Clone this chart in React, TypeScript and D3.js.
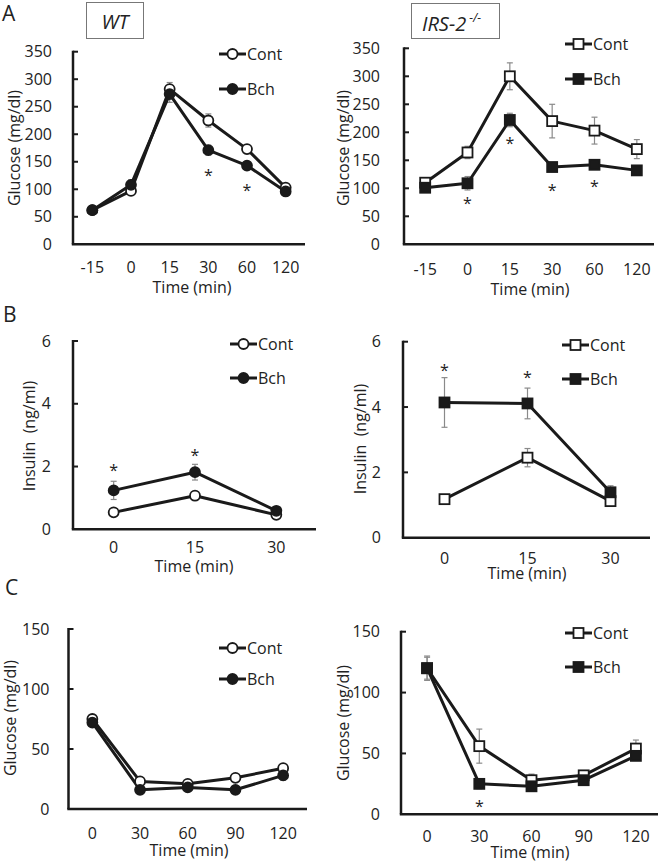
import React from "react";
import * as d3 from "d3";

// ---------- data ----------
const ogttTimes = ["-15", "0", "15", "30", "60", "120"];
const insulinTimes = ["0", "15", "30"];
const ittTimes = ["0", "30", "60", "90", "120"];

const glucoseTicks = [0, 50, 100, 150, 200, 250, 300, 350];
const insulinTicks = [0, 2, 4, 6];
const ittTicks = [0, 50, 100, 150];

const wtOgttCont = [62, 97, 282, 225, 173, 103];
const wtOgttContErr = [3, 4, 12, 12, 8, 3];
const wtOgttBch = [62, 108, 273, 171, 143, 96];
const wtOgttBchErr = [4, 9, 15, 9, 4, 3];
const wtOgttStars = [null, null, null, 131, 104, null];

const irsOgttCont = [110, 164, 300, 220, 203, 170];
const irsOgttContErr = [4, 11, 24, 30, 24, 17];
const irsOgttBch = [101, 109, 222, 138, 142, 132];
const irsOgttBchErr = [4, 12, 12, 6, 5, 8];
const irsOgttStars = [null, 79, 186, 102, 109, null];

const wtInsCont = [0.54, 1.07, 0.46];
const wtInsContErr = [0.05, 0.06, 0.04];
const wtInsBch = [1.24, 1.82, 0.59];
const wtInsBchErr = [0.29, 0.25, 0.06];
const wtInsStars = [1.99, 2.47, null];

const irsInsCont = [1.18, 2.45, 1.12];
const irsInsContErr = [0.06, 0.28, 0.08];
const irsInsBch = [4.14, 4.11, 1.39];
const irsInsBchErr = [0.76, 0.47, 0.2];
const irsInsStars = [5.22, 5.01, null];

const wtIttCont = [75, 23, 21, 26, 34];
const wtIttContErr = [2, 2, 2, 2, 3];
const wtIttBch = [72, 16, 18, 16, 28];
const wtIttBchErr = [2, 2, 3, 2, 4];
const wtIttStars = [null, null, null, null, null];

const irsIttCont = [120, 56, 28, 32, 54];
const irsIttContErr = [10, 14, 5, 3, 7];
const irsIttBch = [120, 25, 23, 28, 48];
const irsIttBchErr = [9, 4, 3, 3, 3];
const irsIttStars = [null, 9, null, null, null];

const legendLabels = ["Cont", "Bch"];

// ---------- drawing ----------
const FONT = "'Open Sans', 'Noto Sans', sans-serif";
const INK = "#1a1a1a";
const TXT = "#222";
const ERR = "#8a8a8a";

type PanelProps = {
  cats: string[];
  ticks: number[];
  cont: number[];
  contErr: number[];
  bch: number[];
  bchErr: number[];
  stars: (number | null)[];
  square: boolean;
  x0: number;
  x1: number;
  axisEnd: number;
  yTop: number;
  yBase: number;
  tickGap: number;
  xLabelY: number;
  timeY: number;
  timeX: number;
  yTitle: string;
  yTitleX: number;
  yTitleY: number;
  legX: number;
  legY1: number;
  legY2: number;
};

function Marker({ x, y, filled, square }: { x: number; y: number; filled: boolean; square: boolean }) {
  const fill = filled ? INK : "#fff";
  if (square) {
    return <rect x={x - 5} y={y - 5} width={10} height={10} fill={fill} stroke={INK} strokeWidth={1.8} />;
  }
  return <circle cx={x} cy={y} r={5} fill={fill} stroke={INK} strokeWidth={1.8} />;
}

function Panel(p: PanelProps) {
  const x = d3.scaleBand<string>().domain(p.cats).range([p.x0, p.x1]).padding(0);
  const yMax = p.ticks[p.ticks.length - 1];
  const y = d3.scaleLinear().domain([0, yMax]).range([p.yBase, p.yTop]);
  const cx = (c: string) => (x(c) as number) + x.bandwidth() / 2;
  const line = d3
    .line<number>()
    .x((_, i) => cx(p.cats[i]))
    .y((v) => y(v));

  const series = [
    { vals: p.cont, errs: p.contErr, filled: false },
    { vals: p.bch, errs: p.bchErr, filled: true },
  ];

  return (
    <g fontFamily={FONT}>
      {/* axes */}
      <line x1={p.x0} x2={p.x0} y1={p.yTop - 1} y2={p.yBase} stroke={INK} strokeWidth={2.5} />
      <line x1={p.x0 - 1.2} x2={p.axisEnd} y1={p.yBase} y2={p.yBase} stroke={INK} strokeWidth={2.5} />
      {p.ticks.map((t) => (
        <g key={t}>
          {t > 0 && <line x1={p.x0} x2={p.x0 + 5} y1={y(t)} y2={y(t)} stroke={INK} strokeWidth={2} />}
          <text x={p.x0 - p.tickGap} y={y(t) + 5.7} textAnchor="end" fontSize={16} fill={TXT}>
            {t}
          </text>
        </g>
      ))}
      {p.cats.map((c) => (
        <text key={c} x={cx(c)} y={p.xLabelY} textAnchor="middle" fontSize={16} fill={TXT}>
          {c}
        </text>
      ))}
      <text x={p.timeX} y={p.timeY} textAnchor="middle" fontSize={16} fill={TXT}>
        Time (min)
      </text>
      <text
        transform={`translate(${p.yTitleX},${p.yTitleY}) rotate(-90)`}
        textAnchor="middle"
        fontSize={16}
        fill={TXT}
        style={{ whiteSpace: "pre" }}
      >
        {p.yTitle}
      </text>

      {/* error bars */}
      {series.map((s, si) =>
        s.vals.map((v, i) => {
          const e = s.errs[i];
          const xx = cx(p.cats[i]);
          return (
            <g key={`e${si}-${i}`} stroke={ERR} strokeWidth={1.2}>
              <line x1={xx} x2={xx} y1={y(v - e)} y2={y(v + e)} />
              <line x1={xx - 3} x2={xx + 3} y1={y(v + e)} y2={y(v + e)} />
              <line x1={xx - 3} x2={xx + 3} y1={y(v - e)} y2={y(v - e)} />
            </g>
          );
        })
      )}

      {/* lines */}
      {series.map((s, si) => (
        <path key={`l${si}`} d={line(s.vals) as string} fill="none" stroke={INK} strokeWidth={3} strokeLinejoin="round" />
      ))}
      {series.map((s, si) =>
        s.vals.map((v, i) => (
          <Marker key={`m${si}-${i}`} x={cx(p.cats[i])} y={y(v)} filled={s.filled} square={p.square} />
        ))
      )}

      {/* significance */}
      {p.stars.map((v, i) =>
        v == null ? null : (
          <text key={`s${i}`} x={cx(p.cats[i])} y={y(v) + 9} textAnchor="middle" fontSize={16} fill={TXT}>
            *
          </text>
        )
      )}

      {/* legend */}
      {legendLabels.map((lab, i) => {
        const ly = i === 0 ? p.legY1 : p.legY2;
        return (
          <g key={lab}>
            <line x1={p.legX} x2={p.legX + 27} y1={ly} y2={ly} stroke={INK} strokeWidth={3} />
            <Marker x={p.legX + 13.5} y={ly} filled={i === 1} square={p.square} />
            <text x={p.legX + 28} y={ly + 5.7} fontSize={16} fill={TXT}>
              {lab}
            </text>
          </g>
        );
      })}
    </g>
  );
}

export default function App() {
  return (
    <svg
      width={658}
      height={862}
      style={{ position: "absolute", left: 0, top: 0, background: "#fff" }}
      fontFamily={FONT}
    >
      <rect x={0} y={0} width={658} height={862} fill="#fff" />
      {/* panel letters */}
      <text x={2} y={21} fontSize={21} fill={TXT}>A</text>
      <text x={3} y={322} fontSize={21} fill={TXT}>B</text>
      <text x={5} y={595} fontSize={21} fill={TXT}>C</text>

      {/* genotype boxes */}
      <rect x={86.5} y={2.5} width={57} height={36} fill="#fff" stroke="#777" strokeWidth={1} />
      <text x={115} y={28.5} textAnchor="middle" fontSize={20} fontStyle="italic" fill={TXT}>WT</text>
      <rect x={411.5} y={3.5} width={88} height={35} fill="#fff" stroke="#777" strokeWidth={1} />
      <text x={422} y={31} fontSize={20} fontStyle="italic" fill={TXT}>
        IRS-2
        <tspan fontSize={12} dx={3} dy={-9}>-/-</tspan>
      </text>

      <Panel
        cats={ogttTimes} ticks={glucoseTicks}
        cont={wtOgttCont} contErr={wtOgttContErr} bch={wtOgttBch} bchErr={wtOgttBchErr} stars={wtOgttStars}
        square={false}
        x0={73} x1={305} axisEnd={305} yTop={51.7} yBase={244.3} tickGap={21}
        xLabelY={273} timeY={293} timeX={192}
        yTitle="Glucose (mg/dl)" yTitleX={20} yTitleY={148}
        legX={219} legY1={54} legY2={89}
      />
      <Panel
        cats={ogttTimes} ticks={glucoseTicks}
        cont={irsOgttCont} contErr={irsOgttContErr} bch={irsOgttBch} bchErr={irsOgttBchErr} stars={irsOgttStars}
        square={true}
        x0={404} x1={658} axisEnd={654} yTop={48.3} yBase={244.3} tickGap={24}
        xLabelY={275} timeY={295} timeX={530}
        yTitle="Glucose (mg/dl)" yTitleX={349} yTitleY={148}
        legX={565} legY1={44} legY2={79}
      />
      <Panel
        cats={insulinTimes} ticks={insulinTicks}
        cont={wtInsCont} contErr={wtInsContErr} bch={wtInsBch} bchErr={wtInsBchErr} stars={wtInsStars}
        square={false}
        x0={73} x1={317} axisEnd={316} yTop={341} yBase={529.3} tickGap={22}
        xLabelY={553} timeY={572} timeX={194}
        yTitle={"Insulin  (ng/ml)"} yTitleX={35} yTitleY={436}
        legX={230} legY1={344} legY2={378}
      />
      <Panel
        cats={insulinTimes} ticks={insulinTicks}
        cont={irsInsCont} contErr={irsInsContErr} bch={irsInsBch} bchErr={irsInsBchErr} stars={irsInsStars}
        square={true}
        x0={403} x1={652} axisEnd={650} yTop={341.7} yBase={537.7} tickGap={22}
        xLabelY={564} timeY={579} timeX={527}
        yTitle={"Insulin  (ng/ml)"} yTitleX={366} yTitleY={439}
        legX={562} legY1={345} legY2={379}
      />
      <Panel
        cats={ittTimes} ticks={ittTicks}
        cont={wtIttCont} contErr={wtIttContErr} bch={wtIttBch} bchErr={wtIttBchErr} stars={wtIttStars}
        square={false}
        x0={68.5} x1={307} axisEnd={307} yTop={629} yBase={809} tickGap={19}
        xLabelY={839} timeY={856} timeX={189}
        yTitle="Glucose (mg/dl)" yTitleX={16} yTitleY={718}
        legX={219} legY1={648} legY2={679}
      />
      <Panel
        cats={ittTimes} ticks={ittTicks}
        cont={irsIttCont} contErr={irsIttContErr} bch={irsIttBch} bchErr={irsIttBchErr} stars={irsIttStars}
        square={true}
        x0={401} x1={662} axisEnd={658} yTop={631.7} yBase={814.3} tickGap={21}
        xLabelY={842} timeY={858} timeX={530}
        yTitle="Glucose (mg/dl)" yTitleX={349} yTitleY={723}
        legX={565} legY1={633} legY2={667}
      />
    </svg>
  );
}
